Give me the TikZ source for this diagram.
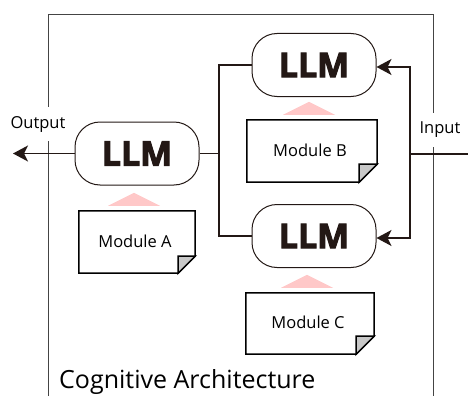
\documentclass[tikz,border=0pt]{standalone}
\usepackage{fontspec}
\setmainfont{Open Sans}
\newfontfamily\heavyfont{Open Sans}[BoldFeatures={FakeBold=3}]
\usetikzlibrary{arrows.meta}
\definecolor{ink}{HTML}{231815}
\definecolor{framegray}{HTML}{444444}
\definecolor{pinktri}{HTML}{FFC8C8}
\definecolor{foldgray}{HTML}{C8C8C8}
\tikzset{
  llm/.style={draw=ink, line width=1pt, rounded corners=25pt, minimum width=124pt, minimum height=63pt, inner sep=0pt,
    text=ink, font=\heavyfont\fontsize{34}{40}\selectfont\bfseries},
  modbox/.style={inner sep=0pt, font=\fontsize{16.5}{20}\selectfont},
  notefill/.style={draw=black, line width=1.5pt, fill=white, line join=miter},
  foldstyle/.style={draw=black, line width=1.5pt, fill=foldgray},
  tri/.style={fill=pinktri, draw=none},
  conn/.style={draw=ink, line width=1.5pt},
  arr/.style={conn, -{Stealth[length=15pt,width=16pt,inset=4pt]}},
  lbl/.style={fill=white, inner xsep=2pt, inner ysep=9pt, font=\fontsize{16.5}{20}\selectfont},
  frame/.style={draw=framegray, line width=1pt}
}
\begin{document}
\begin{tikzpicture}[x=1pt, y=-1pt]
\useasboundingbox (0,0) rectangle (468,396);
% frame
\draw[frame] (48,396) -- (48,15) -- (433,15) -- (433,396);
% labels
\node[lbl] (outlbl) at (38,124) {Output};
\node[lbl] (inlbl) at (440,130) {Input};
\node[font=\fontsize{25}{30}\selectfont, anchor=base west, inner sep=0pt] (title) at (59,388) {Cognitive Architecture};
% LLM nodes
\node[llm] (L) at (137,153.5) {LLM};
\node[llm] (T) at (314,65) {LLM};
\node[llm] (B) at (314,236) {LLM};
% modules
\node[modbox, minimum width=116pt, minimum height=62pt] (mA) at (137,242) {};
\node[modbox, minimum width=130pt, minimum height=62pt] (mB) at (312,151) {};
\node[modbox, minimum width=128pt, minimum height=61pt] (mC) at (310,323.5) {};
\foreach \m/\t/\f in {mA/Module A/17, mB/Module B/18, mC/Module C/18}{
  \draw[notefill] (\m.north west) -- (\m.north east) -- ([yshift=\f pt]\m.south east)
     -- ([xshift=-\f pt]\m.south east) -- (\m.south west) -- cycle;
  \draw[foldstyle] ([yshift=\f pt]\m.south east) -- ([xshift=-\f pt,yshift=\f pt]\m.south east)
     -- ([xshift=-\f pt]\m.south east) -- cycle;
  \node[font=\fontsize{16.5}{20}\selectfont] at ([xshift=-2pt,yshift=1pt]\m.center) {\t};
  \fill[tri] ([xshift=-29pt,yshift=5pt]\m.north) -- ([xshift=23pt,yshift=5pt]\m.north)
     -- ([xshift=-3pt,yshift=18pt]\m.north) -- cycle;
}
% connectors
\coordinate (outend) at (13,153.5);
\coordinate (jn) at (219,153.5);
\coordinate (inend) at (468,154);
\coordinate (ji) at (410,154);
\draw[arr] (L.west) -- (outend);
\draw[conn] (L.east) -- (jn);
\draw[conn] (T.west) -| (jn);
\draw[conn] (B.west) -| (jn);
\draw[conn] (inend) -- (ji);
\draw[arr] (ji) |- ([yshift=-2pt]T.east);
\draw[arr] (ji) |- ([yshift=-2pt]B.east);
\end{tikzpicture}
\end{document}
